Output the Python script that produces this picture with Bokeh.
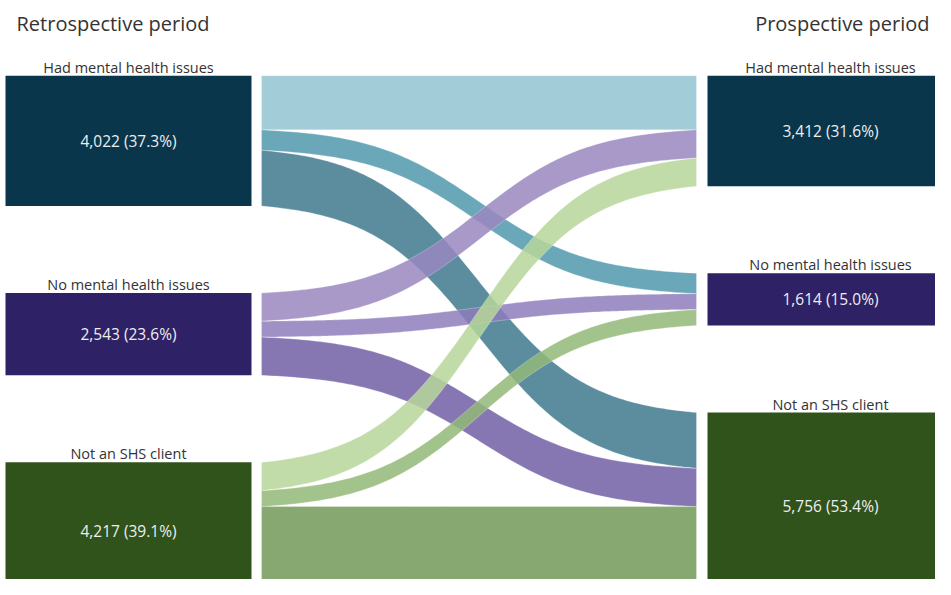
import numpy as np
from bokeh.plotting import figure
from bokeh.models import Range1d, ColumnDataSource
from bokeh.core.properties import value
from bokeh.embed import file_html
from bokeh.resources import INLINE

# ---------------- data ----------------
categories = ["Had mental health issues", "No mental health issues", "Not an SHS client"]
retro_totals = [4022, 2543, 4217]
prosp_totals = [3412, 1614, 5756]
# flows from each retrospective category to prospective categories (Had, No, Not)
flow_from_had = [1670, 630, 1722]
flow_from_no = [870, 490, 1183]
flow_from_not = [872, 494, 2851]
flows = [flow_from_had, flow_from_no, flow_from_not]
period_titles = ["Retrospective period", "Prospective period"]

# ---------------- styles / layout ----------------
W, H = 935, 579
PX_PER_UNIT = 0.03238
UPP = 1.0 / PX_PER_UNIT
GAP = 87 * UPP
TOP_PX = 75.3
FONT = "Open Sans"

node_colors = ["#0a364c", "#2f2165", "#30521b"]
band_seen = [["#a2ccd8", "#6aa8b9", "#5b8d9f"],
             ["#a899c9", "#9f90c5", "#8677b3"],
             ["#c1dca8", "#a2c38c", "#88a871"]]
ALPHA = 0.85


def base_color(hexc, a=ALPHA):
    h = hexc.lstrip("#")
    rgb = [int(h[k:k + 2], 16) for k in (0, 2, 4)]
    out = [max(0, min(255, round((c - (1 - a) * 255) / a))) for c in rgb]
    return "#%02x%02x%02x" % tuple(out)


L_X0, L_X1 = 5, 251
R_X0, R_X1 = 707, 953
B_X0, B_X1 = 261, 696

p = figure(width=W, height=H, output_backend="svg", toolbar_location=None,
           x_range=Range1d(0, W),
           y_range=Range1d((H - TOP_PX) * UPP, -TOP_PX * UPP),
           min_border=0)
p.axis.visible = False
p.grid.visible = False
p.outline_line_color = None
p.background_fill_color = "white"
p.border_fill_color = "white"


def tops(totals):
    out, y = [], 0.0
    for t in totals:
        out.append(y)
        y += t + GAP
    return out


ltop = tops(retro_totals)
rtop = tops(prosp_totals)

# ---------------- bands ----------------
k = 8.0
xs = np.linspace(B_X0, B_X1, 120)
tt = (xs - B_X0) / (B_X1 - B_X0)
sig = 1 / (1 + np.exp(-k * (tt - 0.5)))
s0, s1 = 1 / (1 + np.exp(k / 2)), 1 / (1 + np.exp(-k / 2))
sn = (sig - s0) / (s1 - s0)

lcur = list(ltop)
rcur = list(rtop)
bx, by, bc = [], [], []
for i in range(3):
    for j in range(3):
        v = flows[i][j]
        y0, y1 = lcur[i], rcur[j]
        lcur[i] += v
        rcur[j] += v
        top = y0 + (y1 - y0) * sn
        bot = top + v
        bx.append(list(np.concatenate([xs, xs[::-1]])))
        by.append(list(np.concatenate([top, bot[::-1]])))
        bc.append(base_color(band_seen[i][j]))

p.patches(xs="xs", ys="ys", fill_color="color", fill_alpha=ALPHA,
          line_color="white", line_alpha=0.35, line_width=0.8,
          source=ColumnDataSource(dict(xs=bx, ys=by, color=bc)))

# ---------------- nodes ----------------
def add_nodes(totals, topl, x0, x1):
    grand = sum(totals)
    cxv = (x0 + x1) / 2
    src = ColumnDataSource(dict(
        left=[x0] * 3, right=[x1] * 3,
        top=topl, bottom=[t + v for t, v in zip(topl, totals)],
        color=node_colors,
        cx=[cxv] * 3,
        cy=[t + v / 2 for t, v in zip(topl, totals)],
        lab=categories,
        val=[f"{v:,} ({v / grand * 100:.1f}%)" for v in totals],
    ))
    p.quad(left="left", right="right", top="top", bottom="bottom",
           fill_color="color", line_color=None, source=src)
    p.text(x="cx", y="cy", text="val", text_align="center", text_baseline="middle",
           text_color="#eeeeee", text_font=value(FONT), text_font_size="15.5px",
           source=src)
    p.text(x="cx", y="top", text="lab", text_align="center", text_baseline="alphabetic",
           y_offset=-8.5, text_color="#333333", text_font=value(FONT),
           text_font_size="14.5px", source=src)


add_nodes(retro_totals, ltop, L_X0, L_X1)
add_nodes(prosp_totals, rtop, R_X0, R_X1)

# ---------------- titles ----------------
title_y = (22.5 - TOP_PX) * UPP
p.text(x=[16], y=[title_y], text=[period_titles[0]], text_align="left",
       text_baseline="alphabetic", text_color="#333333", text_font=value(FONT),
       text_font_size="20px")
p.text(x=[929], y=[title_y], text=[period_titles[1]], text_align="right",
       text_baseline="alphabetic", text_color="#333333", text_font=value(FONT),
       text_font_size="20px")

open("out.html", "w").write(file_html(p, INLINE))
